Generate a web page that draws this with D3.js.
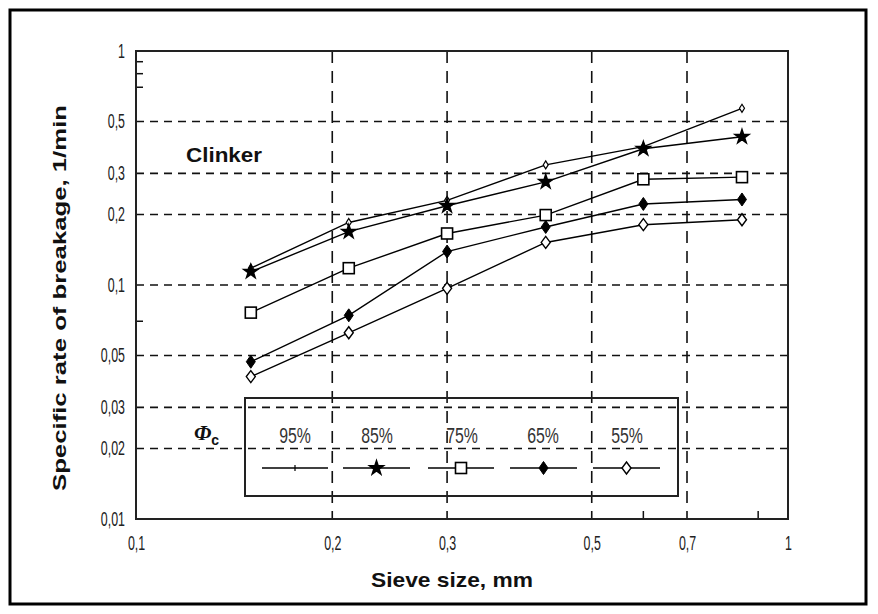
<!DOCTYPE html>
<html>
<head>
<meta charset="utf-8">
<script src="https://cdn.jsdelivr.net/npm/d3@7"></script>
<style>
  body { margin: 0; background: #fff; }
  svg { display: block; }
</style>
</head>
<body>
<svg id="chart" width="878" height="614"></svg>
<script>
// ---------- data ----------
const sieve = [0.15, 0.212, 0.3, 0.425, 0.6, 0.85];
const phi95 = [0.118, 0.185, 0.23, 0.326, 0.39, 0.569];
const phi85 = [0.114, 0.169, 0.218, 0.276, 0.382, 0.430];
const phi75 = [0.0762, 0.118, 0.166, 0.199, 0.283, 0.289];
const phi65 = [0.047, 0.0742, 0.139, 0.177, 0.222, 0.232];
const phi55 = [0.0406, 0.0625, 0.0968, 0.152, 0.181, 0.190];
const seriesNames = ["95%", "85%", "75%", "65%", "55%"];
const xTicks = [0.1, 0.2, 0.3, 0.5, 0.7, 1];
const yTicks = [0.01, 0.02, 0.03, 0.05, 0.1, 0.2, 0.3, 0.5, 1];
const xGrid = [0.2, 0.3, 0.5, 0.7];
const yGrid = [0.02, 0.03, 0.05, 0.1, 0.2, 0.3, 0.5];
const xMinor = [0.6, 0.9];
const yMinor = [0.07, 0.7, 0.8, 0.9];

const series = [phi95, phi85, phi75, phi65, phi55].map((v, i) => ({name: seriesNames[i], marker: i, values: v}));

// ---------- layout ----------
const svg = d3.select("#chart");
const L = 136, R = 788, T = 51, B = 519;
const x = d3.scaleLog().domain([0.1, 1]).range([L, R]);
const y = d3.scaleLog().domain([0.01, 1]).range([B, T]);
const fmt = d => String(d).replace(".", ",");
const sans = "'Liberation Sans', Arial, sans-serif";

// condense text horizontally
function condense(sel, f) {
  sel.each(function () {
    const w = this.getComputedTextLength();
    d3.select(this).attr("textLength", w * f).attr("lengthAdjust", "spacingAndGlyphs");
  });
}

// outer frame
svg.append("rect").attr("x", 10).attr("y", 10).attr("width", 856).attr("height", 594)
  .attr("fill", "none").attr("stroke", "#000").attr("stroke-width", 3);

// grid
const g = svg.append("g");
g.selectAll(".hg").data(yGrid).join("line")
  .attr("x1", L).attr("x2", R).attr("y1", d => y(d)).attr("y2", d => y(d))
  .attr("stroke", "#111").attr("stroke-width", 1.6).attr("stroke-dasharray", "8,6");
g.selectAll(".vg").data(xGrid).join("line")
  .attr("x1", d => x(d)).attr("x2", d => x(d)).attr("y1", T).attr("y2", B)
  .attr("stroke", "#111").attr("stroke-width", 1.6).attr("stroke-dasharray", "12,8");

// minor ticks
g.selectAll(".xm").data(xMinor).join("line")
  .attr("x1", d => x(d)).attr("x2", d => x(d)).attr("y1", B).attr("y2", B - 8)
  .attr("stroke", "#111").attr("stroke-width", 1.5);
g.selectAll(".ym").data(yMinor).join("line")
  .attr("x1", L).attr("x2", L + 7).attr("y1", d => y(d)).attr("y2", d => y(d))
  .attr("stroke", "#111").attr("stroke-width", 1.5);

// plot frame
svg.append("rect").attr("x", L).attr("y", T).attr("width", R - L).attr("height", B - T)
  .attr("fill", "none").attr("stroke", "#222").attr("stroke-width", 2);

// axes (labels only)
const xAxis = svg.append("g").attr("transform", `translate(0,${B})`)
  .call(d3.axisBottom(x).tickValues(xTicks).tickFormat(fmt).tickSize(0).tickPadding(17));
const yAxis = svg.append("g").attr("transform", `translate(${L},0)`)
  .call(d3.axisLeft(y).tickValues(yTicks).tickFormat(fmt).tickSize(0).tickPadding(11));
[xAxis, yAxis].forEach(a => {
  a.select(".domain").remove();
  a.attr("font-size", null).attr("font-family", null);
  a.selectAll("text").style("font-family", sans).style("font-size", "20px").attr("fill", "#222");
  condense(a.selectAll("text"), 0.62);
});

// marker drawing
function drawMarker(sel, type, cx, cy) {
  const m = sel.append("g").attr("transform", `translate(${cx},${cy})`);
  if (type === 0) {
    m.append("path").attr("d", "M0,-4L2.5,0L0,4L-2.5,0Z").attr("fill", "#fff").attr("stroke", "#000").attr("stroke-width", 1.2);
  } else if (type === 1) {
    m.append("path").attr("d", d3.symbol(d3.symbolStar, 60)()).attr("fill", "#000").attr("stroke", "#000").attr("stroke-width", 1.5);
  } else if (type === 2) {
    m.append("rect").attr("x", -5.5).attr("y", -5.5).attr("width", 11).attr("height", 11)
      .attr("fill", "#fff").attr("stroke", "#000").attr("stroke-width", 1.6);
  } else if (type === 3) {
    m.append("path").attr("d", "M0,-6.5L4.5,0L0,6.5L-4.5,0Z").attr("fill", "#000").attr("stroke", "#000").attr("stroke-width", 1);
  } else {
    m.append("path").attr("d", "M0,-6L4.5,0L0,6L-4.5,0Z").attr("fill", "#fff").attr("stroke", "#000").attr("stroke-width", 1.4);
  }
}

// lines
const line = d3.line().x((d, i) => x(sieve[i])).y(d => y(d));
series.forEach(s => {
  svg.append("path").attr("d", line(s.values)).attr("fill", "none")
    .attr("stroke", "#000").attr("stroke-width", 1.4);
});
series.forEach(s => {
  const mg = svg.append("g");
  s.values.forEach((v, i) => drawMarker(mg, s.marker, x(sieve[i]), y(v)));
});

// Clinker label
svg.append("text").attr("x", 186).attr("y", 162).text("Clinker")
  .style("font-family", sans).style("font-weight", "bold").style("font-size", "20px").attr("fill", "#111")
  .attr("textLength", 76).attr("lengthAdjust", "spacingAndGlyphs");

// legend
const leg = svg.append("g");
leg.append("rect").attr("x", 245).attr("y", 398).attr("width", 433).attr("height", 98)
  .attr("fill", "none").attr("stroke", "#222").attr("stroke-width", 2);
const phi = leg.append("text").attr("x", 194).attr("y", 440).attr("fill", "#111")
  .style("font-family", "'Liberation Serif', serif").style("font-weight", "bold").style("font-style", "italic").style("font-size", "22px");
phi.append("tspan").text("Φ");
phi.append("tspan").text("c").style("font-size", "14px").style("font-style", "normal")
  .style("font-family", sans).attr("dy", 5);
const legCenters = [295, 377, 462, 543, 627];
const legSeg = [[262, 328], [343, 410], [428, 494], [510, 577], [593, 660]];
series.forEach((s, i) => {
  const t = leg.append("text").attr("x", legCenters[i]).attr("y", 443).attr("text-anchor", "middle")
    .style("font-family", sans).style("font-size", "22px").attr("fill", "#333").text(s.name);
  condense(t, 0.72);
  leg.append("line").attr("x1", legSeg[i][0]).attr("x2", legSeg[i][1]).attr("y1", 468).attr("y2", 468)
    .attr("stroke", "#000").attr("stroke-width", 1.4);
  const cx = (legSeg[i][0] + legSeg[i][1]) / 2;
  if (s.marker === 0) {
    leg.append("line").attr("x1", cx).attr("x2", cx).attr("y1", 465).attr("y2", 471).attr("stroke", "#000").attr("stroke-width", 1.2);
  } else {
    drawMarker(leg, s.marker, cx, 468);
  }
});

// axis titles
svg.append("text").attr("x", 452).attr("y", 587).attr("text-anchor", "middle")
  .style("font-family", sans).style("font-weight", "bold").style("font-size", "21px")
  .attr("textLength", 162).attr("lengthAdjust", "spacingAndGlyphs").attr("fill", "#111")
  .text("Sieve size, mm");
svg.append("text").attr("transform", "translate(66,298) rotate(-90)").attr("text-anchor", "middle")
  .style("font-family", sans).style("font-weight", "bold").style("font-size", "18px")
  .attr("textLength", 386).attr("lengthAdjust", "spacingAndGlyphs").attr("fill", "#111")
  .text("Specific rate of breakage, 1/min");
</script>
</body>
</html>
